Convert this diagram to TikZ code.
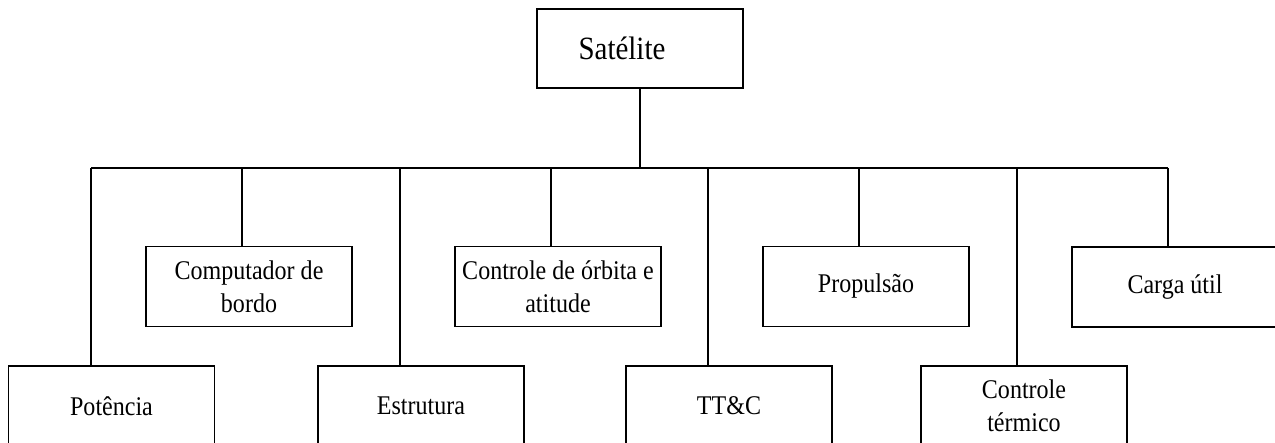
\documentclass[tikz,border=0pt]{standalone}
\usepackage{fontspec}
\setmainfont{Liberation Serif}
\newfontfamily\labfont[FakeStretch=0.89]{Liberation Serif}
\begin{document}
\begin{tikzpicture}[x=1pt,y=-1pt,
  box/.style={draw,line width=1.1pt,rectangle,minimum width=206pt,minimum height=80pt,
    inner sep=0pt,align=center,font=\labfont\fontsize{27}{33}\selectfont},
  topbox/.style={box,minimum height=79pt,font=\labfont\fontsize{32.5}{36}\selectfont},
  conn/.style={line width=1.1pt}]
\useasboundingbox (0,0) rectangle (1275,443);
\clip (0,0) rectangle (1275,443);
\node[topbox] (sat) at (640,48.5) {\hspace*{-36pt}Satélite};
\node[box] (comp) at (249,286.5) {Computador de\\bordo};
\node[box] (orb) at (558,286.5) {Controle de órbita e\\atitude};
\node[box] (prop) at (866,286.5) {Propulsão};
\node[box] (carga) at (1175,287) {Carga útil};
\node[box] (pot) at (111.5,406) {Potência};
\node[box] (est) at (421,406) {Estrutura};
\node[box] (ttc) at (729,406) {TT\&C};
\node[box] (term) at (1024,406) {Controle\\térmico};
\coordinate (bus) at (640,168);
\coordinate (d1) at (91,168);
\coordinate (d2) at (242,168);
\coordinate (d3) at (400,168);
\coordinate (d4) at (551,168);
\coordinate (d5) at (708,168);
\coordinate (d6) at (859,168);
\coordinate (d7) at (1017,168);
\coordinate (d8) at (1168,168);
\draw[conn] (sat.south) -- (bus);
\draw[conn] (d1) -- (d8);
\draw[conn] (d1) -- (d1 |- pot.north);
\draw[conn] (d2) -- (d2 |- comp.north);
\draw[conn] (d3) -- (d3 |- est.north);
\draw[conn] (d4) -- (d4 |- orb.north);
\draw[conn] (d5) -- (d5 |- ttc.north);
\draw[conn] (d6) -- (d6 |- prop.north);
\draw[conn] (d7) -- (d7 |- term.north);
\draw[conn] (d8) -- (d8 |- carga.north);
\end{tikzpicture}
\end{document}
